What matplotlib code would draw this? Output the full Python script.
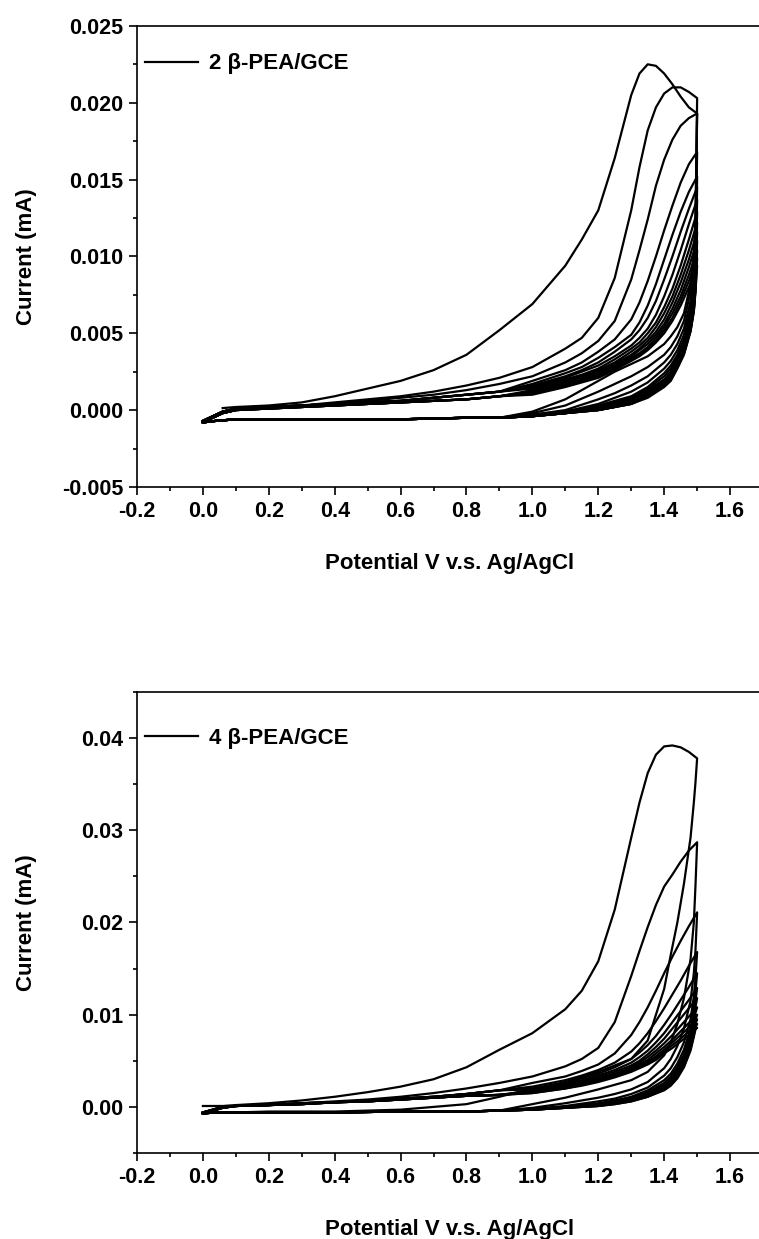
import numpy as np
import matplotlib
matplotlib.use('Agg')
import matplotlib.pyplot as plt
from matplotlib.ticker import MultipleLocator, FormatStrFormatter

plt.rcParams['font.family'] = ['Liberation Sans', 'DejaVu Sans']
plt.rcParams['font.weight'] = 'bold'
plt.rcParams['axes.unicode_minus'] = False

nan = np.nan

# potentials of the anodic (forward) and cathodic (reverse) scans, V
v_fwd = [0.0, 0.06, 0.1, 0.2, 0.3, 0.4, 0.5, 0.6, 0.7, 0.8, 0.9,
         1.0, 1.1, 1.15, 1.2, 1.25, 1.3, 1.325, 1.35, 1.375, 1.4, 1.425, 1.45, 1.475, 1.5]
v_rev = [1.5, 1.495, 1.49, 1.48, 1.46, 1.44, 1.42, 1.4, 1.35, 1.3, 1.25, 1.2, 1.1, 1.0,
         0.9, 0.8, 0.6, 0.4, 0.2, 0.1, 0.04, 0.0]

# ---- 2 b-PEA/GCE, current in mA ----
# forward scans 0.0 - 0.9 V
top_low_a = [-0.0007, -0.0001, 0.0001, 0.0002, 0.0003, 0.0004, 0.0005, 0.0006, 0.0008, 0.0010, 0.0012]
top_low_b = [-0.0008, -0.0002, 0.0000, 0.0001, 0.0002, 0.0003, 0.0004, 0.0005, 0.0006, 0.0007, 0.0009]
# forward scans 1.0 - 1.5 V, cycles 4..14
top_high = [
    [0.0019, 0.0026, 0.0031, 0.0038, 0.0046, 0.0059, 0.0070, 0.0084, 0.0100, 0.0117, 0.0133, 0.0148, 0.0160, 0.0168],
    [0.0017, 0.0024, 0.0028, 0.0034, 0.0041, 0.0049, 0.0057, 0.0068, 0.0082, 0.0098, 0.0114, 0.0129, 0.0142, 0.0152],
    [0.0016, 0.0022, 0.0026, 0.0031, 0.0038, 0.0046, 0.0052, 0.0060, 0.0071, 0.0085, 0.0100, 0.0116, 0.0131, 0.0145],
    [0.0015, 0.0021, 0.0025, 0.0029, 0.0035, 0.0042, 0.0047, 0.0053, 0.0062, 0.0074, 0.0088, 0.0104, 0.0121, 0.0137],
    [0.0014, 0.0020, 0.0023, 0.0027, 0.0033, 0.0040, 0.0044, 0.0050, 0.0057, 0.0067, 0.0079, 0.0094, 0.0111, 0.0129],
    [0.0013, 0.0019, 0.0022, 0.0026, 0.0031, 0.0038, 0.0042, 0.0047, 0.0054, 0.0063, 0.0074, 0.0088, 0.0104, 0.0122],
    [0.0012, 0.0018, 0.0021, 0.0025, 0.0030, 0.0036, 0.0040, 0.0045, 0.0051, 0.0059, 0.0070, 0.0083, 0.0098, 0.0116],
    [0.0012, 0.0017, 0.0020, 0.0024, 0.0029, 0.0035, 0.0039, 0.0043, 0.0049, 0.0056, 0.0066, 0.0078, 0.0093, 0.0110],
    [0.0011, 0.0016, 0.0019, 0.0023, 0.0028, 0.0034, 0.0037, 0.0041, 0.0047, 0.0054, 0.0063, 0.0074, 0.0088, 0.0104],
    [0.0011, 0.0016, 0.0019, 0.0022, 0.0027, 0.0033, 0.0036, 0.0040, 0.0045, 0.0052, 0.0060, 0.0071, 0.0084, 0.0099],
    [0.0010, 0.0015, 0.0018, 0.0021, 0.0026, 0.0032, 0.0035, 0.0039, 0.0044, 0.0050, 0.0058, 0.0068, 0.0080, 0.0094],
]
top_fwd_c1 = [nan, 0.00013, 0.0002, 0.0003, 0.0005, 0.0009, 0.0014, 0.0019, 0.0026, 0.0036, 0.0052,
              0.0069, 0.0094, 0.0111, 0.0130, 0.0164, 0.0205, 0.0219, 0.0225, 0.0224, 0.0219, 0.0212, 0.0204, 0.0197, 0.0193]
top_fwd_c2 = [-0.0007, -0.0001, 0.0001, 0.0002, 0.0003, 0.0005, 0.0007, 0.0009, 0.0012, 0.0016, 0.0021,
              0.0028, 0.0040, 0.0047, 0.0060, 0.0086, 0.0130, 0.0158, 0.0182, 0.0197, 0.0206, 0.0210, 0.0210, 0.0207, 0.0203]
top_fwd_c3 = [-0.0007, -0.0001, 0.0001, 0.0002, 0.0003, 0.0004, 0.0006, 0.0008, 0.0010, 0.0013, 0.0017,
              0.0022, 0.0031, 0.0037, 0.0045, 0.0058, 0.0085, 0.0104, 0.0124, 0.0146, 0.0163, 0.0176, 0.0185, 0.0190, 0.0193]
# reverse scans 1.5 - 1.0 V, cycles 1..14
top_rev_head = [
    [0.0193, 0.0125, 0.0102, 0.0082, 0.0063, 0.0054, 0.0048, 0.0043, 0.0035, 0.0030, 0.0025, 0.0019, 0.0007, -0.0001],
    [0.0203, 0.0118, 0.0095, 0.0077, 0.0058, 0.0048, 0.0041, 0.0036, 0.0028, 0.0022, 0.0017, 0.0012, 0.0003, -0.0002],
    [0.0193, 0.0110, 0.0089, 0.0071, 0.0053, 0.0043, 0.0036, 0.0031, 0.0022, 0.0016, 0.0011, 0.0007, 0.0000, -0.0003],
    [0.0168, 0.0102, 0.0083, 0.0066, 0.0049, 0.0039, 0.0032, 0.0027, 0.0018, 0.0012, 0.0008, 0.0004, -0.0001, -0.0003],
    [0.0152, 0.0096, 0.0078, 0.0062, 0.0046, 0.0036, 0.0029, 0.0024, 0.0015, 0.0009, 0.0006, 0.0003, -0.0001, -0.0003],
    [0.0145, 0.0092, 0.0075, 0.0060, 0.0044, 0.0034, 0.0027, 0.0022, 0.0014, 0.0008, 0.0005, 0.0002, -0.0001, -0.0004],
    [0.0137, 0.0089, 0.0072, 0.0058, 0.0042, 0.0033, 0.0025, 0.0020, 0.0013, 0.0007, 0.0004, 0.0002, -0.0001, -0.0004],
    [0.0129, 0.0086, 0.0070, 0.0056, 0.0041, 0.0032, 0.0024, 0.0019, 0.0012, 0.0006, 0.0003, 0.0001, -0.0002, -0.0004],
    [0.0122, 0.0084, 0.0069, 0.0055, 0.0040, 0.0031, 0.0023, 0.0018, 0.0011, 0.0006, 0.0003, 0.0001, -0.0002, -0.0004],
    [0.0116, 0.0082, 0.0067, 0.0054, 0.0039, 0.0030, 0.0022, 0.0017, 0.0010, 0.0005, 0.0003, 0.0001, -0.0002, -0.0004],
    [0.0110, 0.0080, 0.0066, 0.0053, 0.0038, 0.0029, 0.0021, 0.0017, 0.0010, 0.0005, 0.0002, 0.0000, -0.0002, -0.0004],
    [0.0104, 0.0079, 0.0065, 0.0052, 0.0037, 0.0028, 0.0020, 0.0016, 0.0009, 0.0004, 0.0002, 0.0000, -0.0002, -0.0004],
    [0.0099, 0.0078, 0.0065, 0.0052, 0.0037, 0.0028, 0.0020, 0.0016, 0.0009, 0.0004, 0.0002, 0.0000, -0.0002, -0.0004],
    [0.0094, 0.0077, 0.0064, 0.0051, 0.0036, 0.0027, 0.0019, 0.0015, 0.0008, 0.0004, 0.0002, 0.0000, -0.0002, -0.0004],
]
# reverse scans 0.9 - 0.0 V
top_rev_tail = [-0.0005, -0.0005, -0.0006, -0.0006, -0.0006, -0.0006, -0.0007, -0.0008]

# ---- 4 b-PEA/GCE, current in mA ----
bot_low_a = [-0.0006, 0.0000, 0.0001, 0.0002, 0.0004, 0.0005, 0.0007, 0.0009, 0.0011, 0.0014, 0.0018]
bot_low_b = [-0.0007, -0.0001, 0.0001, 0.0002, 0.0003, 0.0005, 0.0006, 0.0008, 0.0010, 0.0012, 0.0013]
bot_high = [
    [0.0026, 0.0033, 0.0039, 0.0046, 0.0058, 0.0078, 0.0092, 0.0108, 0.0126, 0.0145, 0.0163, 0.0180, 0.0196, 0.0211],
    [0.0022, 0.0029, 0.0034, 0.0040, 0.0048, 0.0060, 0.0069, 0.0080, 0.0093, 0.0107, 0.0122, 0.0137, 0.0153, 0.0168],
    [0.0020, 0.0026, 0.0031, 0.0036, 0.0043, 0.0052, 0.0059, 0.0067, 0.0077, 0.0089, 0.0102, 0.0116, 0.0130, 0.0145],
    [0.0019, 0.0025, 0.0029, 0.0034, 0.0040, 0.0048, 0.0054, 0.0061, 0.0070, 0.0080, 0.0092, 0.0104, 0.0116, 0.0129],
    [0.0018, 0.0024, 0.0028, 0.0032, 0.0038, 0.0045, 0.0050, 0.0057, 0.0065, 0.0074, 0.0085, 0.0096, 0.0107, 0.0118],
    [0.0017, 0.0023, 0.0027, 0.0031, 0.0036, 0.0043, 0.0048, 0.0054, 0.0061, 0.0069, 0.0078, 0.0088, 0.0098, 0.0108],
    [0.0016, 0.0022, 0.0026, 0.0030, 0.0035, 0.0041, 0.0046, 0.0051, 0.0058, 0.0065, 0.0073, 0.0082, 0.0091, 0.0100],
    [0.0016, 0.0021, 0.0025, 0.0029, 0.0034, 0.0040, 0.0044, 0.0049, 0.0055, 0.0062, 0.0070, 0.0078, 0.0086, 0.0095],
    [0.0015, 0.0020, 0.0024, 0.0028, 0.0033, 0.0039, 0.0043, 0.0047, 0.0053, 0.0060, 0.0067, 0.0074, 0.0082, 0.0090],
    [0.0015, 0.0020, 0.0023, 0.0027, 0.0032, 0.0038, 0.0042, 0.0046, 0.0051, 0.0058, 0.0064, 0.0071, 0.0078, 0.0086],
]
bot_fwd_c1 = [0.0001, 0.0001, 0.0002, 0.0004, 0.0007, 0.0011, 0.0016, 0.0022, 0.0030, 0.0043, 0.0062,
              0.0080, 0.0106, 0.0126, 0.0158, 0.0214, 0.0292, 0.0330, 0.0362, 0.0382, 0.0391, 0.0392, 0.0390, 0.0385, 0.0378]
bot_fwd_c2 = [-0.0006, 0.0000, 0.0001, 0.0002, 0.0004, 0.0006, 0.0008, 0.0011, 0.0015, 0.0020, 0.0026,
              0.0033, 0.0044, 0.0052, 0.0064, 0.0092, 0.0142, 0.0169, 0.0195, 0.0219, 0.0239, 0.0252, 0.0266, 0.0278, 0.0287]
bot_rev_head = [
    [0.0378, 0.0352, 0.0330, 0.0292, 0.0242, 0.0200, 0.0165, 0.0128, 0.0072, 0.0052, 0.0045, 0.0038, 0.0027, 0.0020],
    [0.0287, 0.0240, 0.0200, 0.0160, 0.0118, 0.0090, 0.0070, 0.0056, 0.0038, 0.0029, 0.0024, 0.0019, 0.0010, 0.0003],
    [0.0211, 0.0170, 0.0145, 0.0115, 0.0085, 0.0066, 0.0052, 0.0042, 0.0027, 0.0019, 0.0014, 0.0010, 0.0004, -0.0001],
    [0.0168, 0.0140, 0.0120, 0.0095, 0.0070, 0.0054, 0.0042, 0.0034, 0.0021, 0.0014, 0.0009, 0.0006, 0.0001, -0.0002],
    [0.0145, 0.0125, 0.0107, 0.0085, 0.0062, 0.0047, 0.0036, 0.0029, 0.0018, 0.0011, 0.0007, 0.0004, 0.0000, -0.0003],
    [0.0129, 0.0115, 0.0099, 0.0079, 0.0057, 0.0043, 0.0033, 0.0026, 0.0016, 0.0010, 0.0006, 0.0003, 0.0000, -0.0003],
    [0.0118, 0.0108, 0.0094, 0.0075, 0.0053, 0.0040, 0.0030, 0.0024, 0.0015, 0.0009, 0.0005, 0.0003, 0.0000, -0.0003],
    [0.0108, 0.0102, 0.0090, 0.0072, 0.0050, 0.0037, 0.0028, 0.0022, 0.0014, 0.0008, 0.0004, 0.0002, -0.0001, -0.0003],
    [0.0100, 0.0094, 0.0083, 0.0067, 0.0047, 0.0035, 0.0026, 0.0021, 0.0013, 0.0007, 0.0004, 0.0002, -0.0001, -0.0003],
    [0.0095, 0.0090, 0.0080, 0.0065, 0.0045, 0.0033, 0.0025, 0.0020, 0.0012, 0.0007, 0.0004, 0.0001, -0.0001, -0.0003],
    [0.0090, 0.0087, 0.0078, 0.0063, 0.0044, 0.0032, 0.0024, 0.0019, 0.0011, 0.0006, 0.0003, 0.0001, -0.0001, -0.0003],
    [0.0086, 0.0084, 0.0076, 0.0061, 0.0043, 0.0031, 0.0023, 0.0018, 0.0011, 0.0006, 0.0003, 0.0001, -0.0001, -0.0003],
]
bot_rev_c1_tail = [0.0011, 0.0003, -0.0003, -0.0005, -0.0005, -0.0006, -0.0006, -0.0007]
bot_rev_tail = [-0.0004, -0.0005, -0.0005, -0.0006, -0.0006, -0.0006, -0.0006, -0.0007]

top_label = '2 β-PEA/GCE'
bot_label = '4 β-PEA/GCE'

# assemble the cycles
top_fwd = [top_fwd_c1, top_fwd_c2, top_fwd_c3]
for i, h in enumerate(top_high):
    top_fwd.append((top_low_a if i < 5 else top_low_b) + h)
top_rev = [h + top_rev_tail for h in top_rev_head]

bot_fwd = [bot_fwd_c1, bot_fwd_c2]
for i, h in enumerate(bot_high):
    bot_fwd.append((bot_low_a if i < 4 else bot_low_b) + h)
bot_rev = [bot_rev_head[0] + bot_rev_c1_tail] + [h + bot_rev_tail for h in bot_rev_head[1:]]

fig = plt.figure(figsize=(7.59, 12.39), dpi=100)
ax1 = fig.add_axes([0.1805, 0.6070, 0.8248, 0.3721])
ax2 = fig.add_axes([0.1805, 0.0694, 0.8248, 0.3721])


def draw(ax, fwd, rev, label, ylim, ymaj, ymin, yfmt, legy):
    for i, (f, r) in enumerate(zip(fwd, rev)):
        ax.plot(v_fwd + v_rev, f + r, color='k', lw=1.6,
                label=label if i == 0 else None)
    ax.set_xlim(-0.2, 1.7)
    ax.set_ylim(*ylim)
    ax.xaxis.set_major_locator(MultipleLocator(0.2))
    ax.xaxis.set_minor_locator(MultipleLocator(0.1))
    ax.yaxis.set_major_locator(MultipleLocator(ymaj))
    ax.yaxis.set_minor_locator(MultipleLocator(ymin))
    ax.xaxis.set_major_formatter(FormatStrFormatter('%.1f'))
    ax.yaxis.set_major_formatter(FormatStrFormatter(yfmt))
    ax.tick_params(which='both', direction='out', top=False, right=False, width=1.2)
    ax.tick_params(which='major', length=6, labelsize=15.5, pad=4)
    ax.tick_params(which='minor', length=3)
    for s in ax.spines.values():
        s.set_linewidth(1.2)
    ax.spines['right'].set_visible(False)
    ax.set_xlabel('Potential V v.s. Ag/AgCl', fontsize=16, fontweight='bold')
    ax.set_ylabel('Current (mA)', fontsize=16, fontweight='bold')
    ax.xaxis.set_label_coords(0.5, -0.143)
    ax.yaxis.set_label_coords(-0.160, 0.5)
    ax.legend(loc='center left', bbox_to_anchor=(0.012, legy), frameon=False,
              borderpad=0, borderaxespad=0, handlelength=2.4, handletextpad=0.5,
              prop={'size': 16, 'weight': 'bold'})


draw(ax1, top_fwd, top_rev, top_label, (-0.005, 0.025), 0.005, 0.0025, '%.3f', 0.9176)
draw(ax2, bot_fwd, bot_rev, bot_label, (-0.005, 0.045), 0.01, 0.005, '%.2f', 0.900)

fig.savefig('out.png', dpi=100)
